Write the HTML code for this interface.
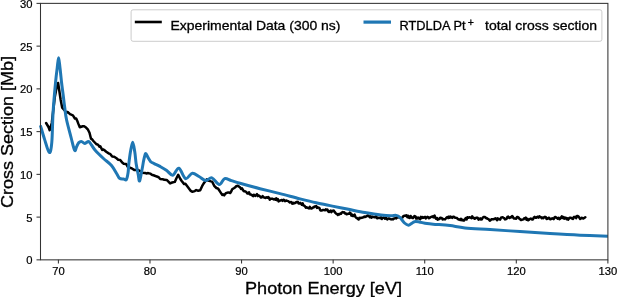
<!DOCTYPE html>
<html><head><meta charset="utf-8"><style>
html,body{margin:0;padding:0;background:#fff;}
svg{display:block;will-change:transform;}
text{font-family:"Liberation Sans",sans-serif;fill:#000;stroke:#000;stroke-width:0.3px;}
.tl{font-size:10.5px;stroke-width:0.2px;}
</style></head><body>
<svg width="617" height="297" viewBox="0 0 617 297">
<rect width="617" height="297" fill="#fff"/>
<path d="M46.1,123.0 L48.5,127.0 L49.7,130.2 L51.8,123.0 L53.3,110.0 L54.8,97.0 L56.5,88.0 L58.1,83.0 L59.2,90.0 L60.7,100.0 L62.2,107.7 L64.9,110.8 L66.2,112.5 L67.6,111.9 L70.0,114.2 L72.9,115.3 L74.9,118.5 L76.2,118.4 L77.3,120.9 L78.2,123.4 L79.8,127.3 L82.7,126.3 L84.2,126.3 L85.6,127.2 L88.0,129.7 L89.5,132.8 L91.0,138.7 L92.2,139.4 L93.4,141.0 L96.2,144.0 L98.2,144.9 L99.3,146.6 L100.2,146.2 L102.2,149.9 L103.2,149.4 L104.2,150.0 L106.2,151.7 L109.1,153.6 L110.2,153.9 L112.2,156.6 L114.2,156.8 L116.5,158.3 L118.2,159.7 L120.2,159.9 L122.2,162.6 L123.7,163.8 L126.2,164.1 L128.2,167.5 L130.4,167.8 L132.3,168.7 L134.2,169.9 L136.2,169.9 L138.2,169.9 L139.1,170.6 L140.2,171.2 L142.2,172.7 L145.0,172.9 L146.2,173.5 L148.2,173.1 L150.2,173.6 L151.8,174.8 L154.2,175.5 L156.2,176.3 L158.7,177.2 L160.2,179.0 L162.7,179.2 L164.2,179.8 L166.7,179.9 L168.2,181.4 L170.1,183.4 L172.2,182.5 L174.8,181.9 L176.2,178.8 L178.2,174.8 L180.2,178.8 L181.5,180.8 L184.2,184.1 L185.4,183.8 L188.2,187.5 L190.8,190.9 L192.2,191.8 L194.8,191.1 L196.2,190.1 L198.2,190.7 L200.2,190.3 L202.2,185.9 L203.6,183.6 L206.9,179.2 L208.2,180.6 L211.0,181.4 L212.2,181.7 L214.2,185.8 L216.4,188.0 L218.2,188.7 L220.4,192.1 L222.2,194.9 L223.1,194.3 L224.2,195.3 L225.8,193.2 L228.2,192.4 L230.2,193.0 L231.2,191.5 L232.2,189.3 L234.2,188.0 L235.2,187.2 L236.2,186.3 L237.9,185.7 L240.2,187.5 L241.0,188.9 L242.0,188.3 L243.4,190.7 L244.2,191.4 L245.0,191.2 L246.0,191.8 L247.4,193.6 L248.2,193.3 L249.0,192.3 L249.8,194.3 L251.4,194.8 L253.0,196.1 L253.8,194.7 L255.4,195.9 L257.0,194.2 L257.8,196.1 L258.6,195.5 L259.4,195.8 L260.2,196.6 L261.0,197.6 L261.8,197.3 L262.6,196.1 L264.2,197.6 L265.8,197.9 L266.6,197.2 L267.4,197.7 L268.2,197.1 L269.0,197.7 L269.8,199.7 L270.6,198.7 L272.3,198.7 L273.8,199.5 L274.6,199.1 L275.4,199.7 L276.2,198.4 L277.0,200.3 L277.8,199.1 L278.6,201.4 L279.4,201.0 L280.4,200.4 L281.8,200.0 L282.6,200.8 L283.4,199.8 L284.2,199.9 L285.0,201.1 L285.8,200.7 L286.6,200.6 L287.4,200.9 L288.2,201.1 L289.0,201.8 L289.8,202.4 L291.2,201.9 L292.2,203.6 L293.0,202.8 L293.8,203.4 L294.6,202.9 L295.4,203.0 L296.2,202.0 L297.0,202.2 L297.8,201.8 L298.6,203.6 L299.4,203.5 L300.2,202.9 L301.0,203.6 L301.8,204.7 L302.6,203.3 L303.4,205.5 L304.2,205.5 L305.0,206.4 L305.8,207.7 L306.6,207.2 L307.4,207.8 L308.2,208.0 L309.0,208.4 L309.8,206.9 L310.6,208.4 L311.4,208.6 L312.2,208.2 L313.0,207.5 L313.8,207.3 L314.6,206.4 L315.4,206.4 L316.2,206.1 L317.0,207.9 L317.8,207.3 L318.6,207.6 L319.4,208.0 L320.2,210.1 L321.0,210.6 L321.8,210.5 L322.6,209.9 L323.4,209.9 L324.2,210.1 L325.0,210.3 L325.8,209.4 L326.6,209.9 L327.4,209.5 L328.2,211.4 L329.0,211.9 L329.8,211.3 L330.6,210.6 L331.4,212.2 L332.2,210.8 L333.0,211.1 L333.8,210.6 L334.6,211.9 L335.4,212.9 L336.2,213.7 L337.0,213.9 L337.8,214.9 L338.6,214.0 L339.4,214.4 L340.2,213.5 L341.0,213.7 L341.8,212.5 L342.6,212.1 L343.4,212.5 L344.2,212.3 L345.0,213.4 L345.8,213.5 L346.6,214.2 L347.4,214.0 L348.2,213.8 L349.0,213.8 L349.8,212.6 L350.6,213.3 L351.4,215.6 L352.2,214.7 L353.0,216.0 L353.8,215.9 L354.6,214.6 L355.4,216.8 L356.2,217.8 L357.0,218.0 L357.8,219.0 L358.6,219.5 L359.4,217.8 L360.2,218.2 L361.0,217.7 L361.8,217.9 L362.6,217.5 L363.4,217.3 L364.2,216.6 L365.0,217.1 L365.8,216.5 L366.6,216.4 L367.4,215.5 L368.2,215.6 L369.0,216.3 L369.8,217.3 L370.6,216.4 L371.4,217.6 L372.2,216.6 L373.0,216.9 L373.8,217.0 L374.6,217.2 L375.4,217.0 L376.2,216.2 L377.0,218.2 L377.8,218.2 L378.6,217.7 L379.4,217.8 L380.2,218.3 L381.0,217.3 L381.8,219.0 L382.6,218.0 L383.4,217.5 L384.2,217.7 L385.0,218.7 L385.8,217.6 L386.6,218.8 L387.4,219.4 L388.2,218.5 L389.0,218.4 L389.8,218.8 L390.6,219.2 L391.4,219.4 L392.2,219.1 L393.0,219.4 L393.8,218.5 L394.6,218.5 L395.4,218.1 L396.2,218.4 L397.0,216.7 L397.8,217.5 L398.6,216.8 L399.4,217.4 L400.2,217.8 L401.0,218.3 L401.8,217.9 L402.6,217.4 L403.4,216.0 L404.2,215.9 L405.0,215.6 L405.8,215.9 L406.6,215.3 L407.4,217.2 L408.2,215.9 L409.0,217.8 L409.8,217.9 L410.6,216.0 L411.4,217.1 L412.2,218.0 L413.0,218.1 L413.8,216.7 L414.6,216.1 L415.4,216.4 L416.2,218.6 L417.0,217.5 L417.8,218.5 L418.6,217.6 L419.4,218.6 L420.2,219.2 L421.0,216.9 L421.8,218.0 L422.6,217.0 L423.4,217.8 L424.2,217.6 L425.0,216.9 L425.8,218.4 L426.6,217.6 L427.4,216.8 L428.2,217.1 L429.0,218.2 L429.8,217.8 L430.6,217.2 L431.4,216.7 L432.2,216.9 L433.0,216.4 L433.8,217.3 L434.6,215.6 L435.4,217.9 L436.2,218.8 L437.0,218.0 L437.8,219.7 L438.6,218.9 L439.4,219.0 L440.2,217.7 L441.0,218.0 L441.8,218.0 L442.6,219.5 L443.4,219.1 L444.2,219.2 L445.0,219.4 L445.8,218.5 L446.6,217.5 L447.4,217.0 L448.2,218.1 L449.0,216.6 L449.8,217.8 L450.6,216.6 L451.4,217.0 L452.2,217.8 L453.0,216.7 L453.8,216.7 L454.6,217.5 L455.4,217.7 L456.2,217.9 L457.0,218.0 L457.8,219.0 L458.6,219.6 L459.4,219.4 L460.2,220.0 L461.0,218.7 L461.8,220.3 L462.6,219.8 L463.4,220.5 L464.2,220.4 L465.0,219.2 L465.8,218.1 L466.6,219.5 L467.4,217.2 L468.2,217.8 L469.0,217.4 L469.8,217.2 L470.6,217.7 L471.4,218.1 L472.2,216.4 L473.0,217.9 L473.8,217.7 L474.6,218.8 L475.4,218.4 L476.2,217.8 L477.0,217.6 L477.8,217.9 L478.6,219.7 L479.4,219.1 L480.2,218.4 L481.0,219.5 L481.8,219.3 L482.6,217.9 L483.4,217.1 L484.2,217.1 L485.0,217.0 L485.8,218.1 L486.6,218.0 L487.4,218.7 L488.2,218.9 L489.0,219.7 L489.8,220.6 L490.6,220.1 L491.4,219.3 L492.2,219.2 L493.0,219.4 L493.8,219.0 L494.6,218.9 L495.4,218.3 L496.2,218.7 L497.0,220.3 L497.8,218.4 L498.6,219.1 L499.4,219.3 L500.2,219.6 L501.0,217.7 L501.8,217.4 L502.6,217.2 L503.4,217.8 L504.2,218.2 L505.0,219.4 L505.8,219.0 L506.6,218.9 L507.4,216.9 L508.2,216.6 L509.0,217.8 L509.8,218.0 L510.6,217.1 L511.4,217.3 L512.2,216.0 L513.0,217.1 L513.8,218.5 L514.6,218.4 L515.4,218.5 L516.2,218.8 L517.0,217.1 L517.8,217.1 L518.6,217.6 L519.4,218.7 L520.2,219.3 L521.0,220.1 L521.8,219.8 L522.6,219.6 L523.4,219.4 L524.2,218.3 L525.0,218.4 L525.8,217.6 L526.6,219.7 L527.4,218.8 L528.2,220.3 L529.0,219.7 L529.8,219.0 L530.6,218.6 L531.4,218.8 L532.2,219.6 L533.0,219.3 L533.8,217.5 L534.6,216.9 L535.4,217.7 L536.2,217.7 L537.0,217.1 L537.8,216.7 L538.6,217.6 L539.4,216.3 L540.2,216.9 L541.0,217.2 L541.8,218.3 L542.6,217.6 L543.4,218.1 L544.2,217.2 L545.0,216.8 L545.8,217.1 L546.6,219.0 L547.4,218.8 L548.2,218.1 L549.0,217.7 L549.8,219.0 L550.6,219.3 L551.4,218.7 L552.2,218.2 L553.0,218.8 L553.8,219.1 L554.6,217.3 L555.4,216.9 L556.2,217.7 L557.0,218.0 L557.8,218.7 L558.6,217.8 L559.4,219.2 L560.2,218.7 L561.0,217.6 L561.8,216.3 L562.6,218.0 L563.4,217.0 L564.2,218.6 L565.0,217.6 L565.8,217.8 L566.6,219.2 L567.4,218.3 L568.2,219.6 L569.0,218.5 L569.8,217.7 L570.6,217.7 L571.4,218.1 L572.2,218.6 L573.0,219.0 L573.8,217.0 L574.6,217.3 L575.4,216.7 L576.2,218.1 L577.0,216.0 L577.8,216.1 L578.6,216.6 L579.4,217.8 L580.2,218.9 L581.0,218.5 L581.8,217.7 L582.6,218.3 L583.4,218.5 L585.3,217.2" fill="none" stroke="#000" stroke-width="2.5" stroke-linejoin="round" stroke-linecap="round"/>
<path d="M40.4,125.4 C41.1,127.7 43.0,134.6 44.5,139.1 C46.0,143.6 48.1,151.9 49.3,152.5 C50.5,153.1 51.2,149.2 51.8,142.4 C52.4,135.7 52.5,122.1 53.1,112.0 C53.7,101.9 54.9,89.3 55.6,82.0 C56.3,74.7 56.7,72.0 57.2,68.0 C57.7,64.0 58.1,57.8 58.6,57.8 C59.1,57.8 59.5,64.0 60.0,68.0 C60.5,72.0 61.0,77.3 61.5,82.0 C62.0,86.7 62.8,91.7 63.3,96.0 C63.8,100.3 64.2,104.0 64.8,108.0 C65.3,112.0 65.5,115.0 66.6,120.0 C67.7,125.0 69.9,132.9 71.2,138.0 C72.5,143.1 73.7,148.8 74.6,150.3 C75.5,151.8 75.8,148.3 76.5,147.0 C77.2,145.7 77.9,143.5 78.8,142.6 C79.7,141.7 80.8,141.4 81.8,141.6 C82.8,141.8 83.6,143.5 84.7,143.5 C85.8,143.5 87.5,141.3 88.6,141.6 C89.7,141.8 90.4,143.5 91.5,145.0 C92.6,146.5 93.4,148.2 95.4,150.5 C97.4,152.8 100.8,156.0 103.5,158.5 C106.2,161.0 109.3,162.9 111.5,165.5 C113.7,168.1 115.6,171.9 116.9,174.0 C118.2,176.1 118.4,177.5 119.5,178.3 C120.6,179.1 122.3,178.8 123.5,179.0 C124.7,179.2 125.6,180.6 126.4,179.5 C127.2,178.4 127.7,175.2 128.1,172.6 C128.5,170.0 128.4,167.4 128.8,164.0 C129.2,160.6 129.8,155.6 130.4,152.0 C131.1,148.4 132.0,142.2 132.7,142.2 C133.4,142.2 134.2,148.4 134.8,152.0 C135.4,155.6 135.6,160.3 136.2,164.0 C136.8,167.7 137.5,171.2 138.1,174.0 C138.7,176.8 138.9,181.7 139.6,181.0 C140.2,180.3 141.3,173.0 142.0,169.7 C142.7,166.4 143.0,163.8 143.5,161.3 C144.0,158.9 144.6,156.2 145.0,155.0 C145.4,153.8 145.4,153.3 146.0,153.9 C146.6,154.5 147.8,157.2 148.6,158.5 C149.4,159.8 149.9,161.0 150.8,161.8 C151.7,162.7 152.7,162.8 154.2,163.6 C155.7,164.4 157.9,165.2 160.0,166.4 C162.1,167.6 164.6,169.0 166.7,170.5 C168.8,172.0 170.8,175.6 172.8,175.2 C174.8,174.8 176.8,167.7 178.9,168.3 C181.0,168.9 183.4,177.8 185.6,178.6 C187.8,179.4 190.1,173.5 192.3,173.2 C194.5,172.8 196.8,175.3 199.0,176.5 C201.2,177.7 203.7,180.4 205.8,180.6 C208.0,180.8 209.7,177.2 211.9,177.9 C214.2,178.6 217.2,184.5 219.3,184.6 C221.4,184.7 222.6,179.3 224.6,178.6 C226.6,177.9 228.8,179.8 231.4,180.6 C234.0,181.4 235.2,182.0 240.0,183.3 C244.8,184.7 253.3,187.0 260.0,188.7 C266.7,190.4 273.3,191.9 280.0,193.6 C286.7,195.3 294.0,197.4 300.0,198.9 C306.0,200.4 310.8,201.6 316.2,202.8 C321.6,204.0 327.0,205.0 332.4,206.1 C337.8,207.2 343.2,208.2 348.6,209.3 C354.0,210.4 359.4,211.7 364.8,212.6 C370.2,213.5 376.7,214.5 381.0,215.0 C385.3,215.5 388.3,215.7 390.8,215.8 C393.3,215.9 394.7,215.1 396.2,215.4 C397.7,215.7 398.6,216.2 400.0,217.5 C401.4,218.8 403.1,221.7 404.5,223.0 C405.9,224.3 407.3,225.1 408.5,225.2 C409.7,225.3 410.5,224.1 411.5,223.5 C412.5,222.9 413.2,222.0 414.5,221.7 C415.8,221.4 416.9,221.6 419.0,221.9 C421.1,222.2 424.1,223.2 427.0,223.6 C429.9,224.0 432.9,224.1 436.7,224.4 C440.5,224.7 445.3,225.0 450.0,225.6 C454.7,226.2 458.3,227.2 465.0,227.9 C471.7,228.6 480.8,228.9 490.0,229.5 C499.2,230.1 510.0,230.9 520.0,231.6 C530.0,232.3 540.0,233.0 550.0,233.6 C560.0,234.2 570.4,234.8 580.0,235.2 C589.6,235.6 603.2,236.1 607.9,236.3" fill="none" stroke="#1f77b4" stroke-width="3" stroke-linejoin="round" stroke-linecap="butt"/>
<g stroke="#333" stroke-width="1.05" fill="none">
<rect x="40.5" y="3.37" width="567.4" height="256.48"/>
<line x1="58.40" y1="259.85" x2="58.40" y2="263.6" /><line x1="149.98" y1="259.85" x2="149.98" y2="263.6" /><line x1="241.56" y1="259.85" x2="241.56" y2="263.6" /><line x1="333.14" y1="259.85" x2="333.14" y2="263.6" /><line x1="424.72" y1="259.85" x2="424.72" y2="263.6" /><line x1="516.30" y1="259.85" x2="516.30" y2="263.6" /><line x1="607.88" y1="259.85" x2="607.88" y2="263.6" /><line x1="36.5" y1="259.85" x2="40.5" y2="259.85" /><line x1="36.5" y1="217.11" x2="40.5" y2="217.11" /><line x1="36.5" y1="174.36" x2="40.5" y2="174.36" /><line x1="36.5" y1="131.62" x2="40.5" y2="131.62" /><line x1="36.5" y1="88.87" x2="40.5" y2="88.87" /><line x1="36.5" y1="46.13" x2="40.5" y2="46.13" /><line x1="36.5" y1="3.38" x2="40.5" y2="3.38" />
</g>
<g transform="translate(58.40,274.7) scale(1.07,1)"><text x="0" y="0" text-anchor="middle" class="tl">70</text></g><g transform="translate(149.98,274.7) scale(1.07,1)"><text x="0" y="0" text-anchor="middle" class="tl">80</text></g><g transform="translate(241.56,274.7) scale(1.07,1)"><text x="0" y="0" text-anchor="middle" class="tl">90</text></g><g transform="translate(333.14,274.7) scale(1.07,1)"><text x="0" y="0" text-anchor="middle" class="tl">100</text></g><g transform="translate(424.72,274.7) scale(1.07,1)"><text x="0" y="0" text-anchor="middle" class="tl">110</text></g><g transform="translate(516.30,274.7) scale(1.07,1)"><text x="0" y="0" text-anchor="middle" class="tl">120</text></g><g transform="translate(607.88,274.7) scale(1.07,1)"><text x="0" y="0" text-anchor="middle" class="tl">130</text></g><g transform="translate(32.5,264.25) scale(1.07,1)"><text x="0" y="0" text-anchor="end" class="tl">0</text></g><g transform="translate(32.5,221.51) scale(1.07,1)"><text x="0" y="0" text-anchor="end" class="tl">5</text></g><g transform="translate(32.5,178.76) scale(1.07,1)"><text x="0" y="0" text-anchor="end" class="tl">10</text></g><g transform="translate(32.5,136.02) scale(1.07,1)"><text x="0" y="0" text-anchor="end" class="tl">15</text></g><g transform="translate(32.5,93.27) scale(1.07,1)"><text x="0" y="0" text-anchor="end" class="tl">20</text></g><g transform="translate(32.5,50.53) scale(1.07,1)"><text x="0" y="0" text-anchor="end" class="tl">25</text></g><g transform="translate(32.5,7.78) scale(1.07,1)"><text x="0" y="0" text-anchor="end" class="tl">30</text></g>
<text x="245" y="293.8" textLength="157" lengthAdjust="spacingAndGlyphs" style="font-size:16.8px">Photon Energy [eV]</text>
<text transform="translate(12.6,208) rotate(-90)" textLength="152" lengthAdjust="spacingAndGlyphs" style="font-size:16.8px">Cross Section [Mb]</text>
<rect x="131.1" y="9.8" width="470.8" height="31.5" rx="2" ry="2" fill="#fff" fill-opacity="0.8" stroke="#ccc" stroke-width="1"/>
<line x1="134.8" y1="22" x2="161.8" y2="22" stroke="#000" stroke-width="2.6"/>
<text x="170.5" y="29.5" textLength="170" lengthAdjust="spacingAndGlyphs" style="font-size:12.8px">Experimental Data (300 ns)</text>
<line x1="363.5" y1="22.1" x2="391" y2="22.1" stroke="#1f77b4" stroke-width="3.2"/>
<text x="399.5" y="29.75" textLength="66" lengthAdjust="spacingAndGlyphs" style="font-size:12.8px">RTDLDA Pt</text>
<text x="467.8" y="25.7" style="font-size:10.5px">+</text>
<text x="485" y="29.75" textLength="112" lengthAdjust="spacingAndGlyphs" style="font-size:12.8px">total cross section</text>
</svg>
</body></html>
